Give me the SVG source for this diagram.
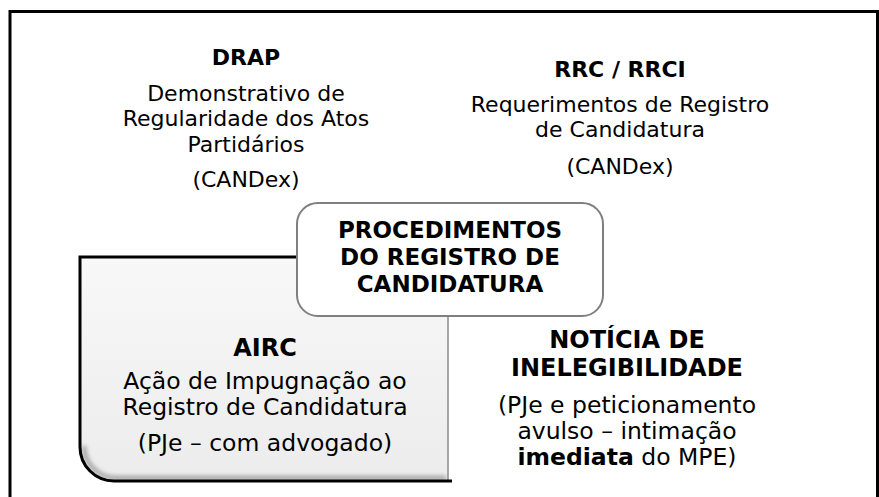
<svg xmlns="http://www.w3.org/2000/svg" width="879" height="497" viewBox="0 0 879 497">
<style>
text{font-family:"DejaVu Sans",Verdana,sans-serif;fill:#000;text-anchor:middle}
.h{font-weight:bold;font-size:22px}
.hc{font-weight:bold;font-size:23px}
.b{font-size:22px}
.h2{font-weight:bold;font-size:24px}
.b2{font-size:23.5px}
</style>
<defs>
<linearGradient id="g" x1="0" y1="0" x2="0" y2="1">
<stop offset="0" stop-color="#f8f8f8"/>
<stop offset="1" stop-color="#ececec"/>
</linearGradient>
<filter id="blur" x="-10%" y="-10%" width="120%" height="120%"><feGaussianBlur stdDeviation="2"/></filter>
<clipPath id="airc-clip"><path d="M80,257 H448 V481 H114 A34,34 0 0 1 80,447 Z"/></clipPath>
</defs>
<rect width="879" height="497" fill="#fff"/>
<path d="M10,497 V11.5 H877.5 V497" fill="none" stroke="#000" stroke-width="3"/>
<g id="airc">
<path d="M80,257 H448 V481 H114 A34,34 0 0 1 80,447 Z" fill="url(#g)" stroke="#8c8c8c" stroke-width="1.5"/>
<path d="M446,478 H116 A32,32 0 0 1 84,446" fill="none" stroke="#9a9a9a" stroke-width="4" filter="url(#blur)" clip-path="url(#airc-clip)"/>
<path d="M452,481 H114 A34,34 0 0 1 80,447 V257 H300" fill="none" stroke="#000" stroke-width="3"/>
<text class="h2" x="265" y="356">AIRC</text>
<text class="b2" x="265" y="389">Ação de Impugnação ao</text>
<text class="b2" x="265" y="415">Registro de Candidatura</text>
<text class="b2" x="265" y="451">(PJe – com advogado)</text>
</g>
<g id="central">
<rect x="297" y="203" width="306" height="113" rx="21" fill="#fff" stroke="#7f7f7f" stroke-width="2"/>
<text class="hc" x="450" y="238">PROCEDIMENTOS</text>
<text class="hc" x="450" y="265">DO REGISTRO DE</text>
<text class="hc" x="450" y="292">CANDIDATURA</text>
</g>
<g id="drap">
<text class="h" x="246" y="65">DRAP</text>
<text class="b" x="246" y="101">Demonstrativo de</text>
<text class="b" x="246" y="126">Regularidade dos Atos</text>
<text class="b" x="246" y="152">Partidários</text>
<text class="b" x="246" y="187">(CANDex)</text>
</g>
<g id="rrc">
<text class="h" x="620" y="77">RRC / RRCI</text>
<text class="b" x="620" y="112">Requerimentos de Registro</text>
<text class="b" x="620" y="137">de Candidatura</text>
<text class="b" x="620" y="174">(CANDex)</text>
</g>
<g id="noticia">
<text class="h2" x="627" y="348">NOTÍCIA DE</text>
<text class="h2" x="627" y="376">INELEGIBILIDADE</text>
<text class="b2" x="627" y="413">(PJe e peticionamento</text>
<text class="b2" x="627" y="439">avulso – intimação</text>
<text class="b2" x="627" y="465"><tspan font-weight="bold">imediata</tspan> do MPE)</text>
</g>
<g id="connectors"></g>
</svg>
